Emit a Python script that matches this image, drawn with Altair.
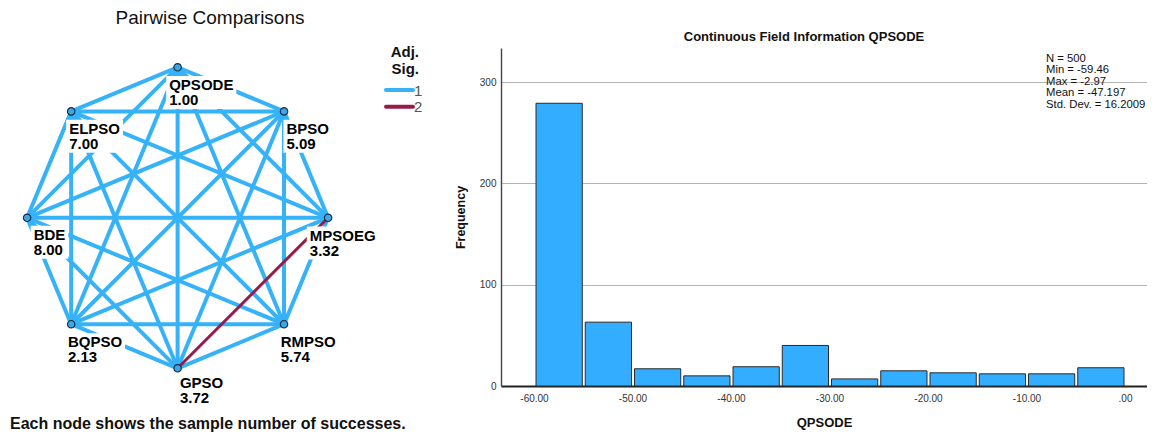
import math
import altair as alt
import pandas as pd

# ---------------- data ----------------
algorithms = ["QPSODE", "BPSO", "MPSOEG", "RMPSO", "GPSO", "BQPSO", "BDE", "ELPSO"]
successes = [1.00, 5.09, 3.32, 5.74, 3.72, 2.13, 8.00, 7.00]
group2_pairs = [("GPSO", "MPSOEG")]          # Adj. Sig. = 2, all other pairs = 1
sig_levels = ["1", "2"]

bin_starts = [-60, -55, -50, -45, -40, -35, -30, -25, -20, -15, -10, -5]
bin_width = 5
frequencies = [279, 63, 17, 10, 19, 40, 7, 15, 13, 12, 12, 18]
x_tick_values = [-60, -50, -40, -30, -20, -10, 0]
y_tick_values = [0, 100, 200, 300]
stats_lines = ["N = 500", "Min = -59.46", "Max = -2.97", "Mean = -47.197", "Std. Dev. = 16.2009"]

left_title = "Pairwise Comparisons"
right_title = "Continuous Field Information QPSODE"
footer_text = "Each node shows the sample number of successes."

# ---------------- style / layout ----------------
FONT = "Liberation Sans"
BLUE = "#36b2f8"
RED = "#981b4e"
BAR = "#33adff"
NODE_FILL = "#3aa8e4"
NODE_STROKE = "#1b2c45"

IMG_LEFT = 8
LEFT_W = 440
VIEW_TOP, VIEW_BOT = 47, 385
VIEW_H = VIEW_BOT - VIEW_TOP
CX, CY, R = 177.6, 216.8, 150.5
RIGHT_X0, RIGHT_X1 = 501, 1147
RIGHT_W = RIGHT_X1 - RIGHT_X0
SPACING = RIGHT_X0 - (IMG_LEFT + LEFT_W)

# label placement (pixel offsets of label start / first baseline from node centre)
label_dx = [-8.4, 2.4, -18.3, -3.3, 2.3, -3.3, 6.6, -2.0]
label_dy = [22.6, 22.3, 22.7, 23.0, 19.3, 23.0, 22.0, 22.3]
LABEL_FS = 15
LINE_GAP = 15

# Arial-bold advance widths (per 1000 em) for label box sizing
CW = {"Q": 778, "P": 667, "S": 667, "O": 778, "D": 722, "E": 667, "B": 722,
      "M": 833, "G": 778, "R": 722, "L": 611, ".": 278}


def text_w(s, fs=LABEL_FS):
    return sum(CW.get(c, 556) for c in s) * fs / 1000.0


def ux(img_x):
    return (img_x - CX) / R


def uy(img_y):
    return (CY - img_y) / R


x_dom = [ux(IMG_LEFT), ux(IMG_LEFT + LEFT_W)]
y_dom = [uy(VIEW_BOT), uy(VIEW_TOP)]
xs = alt.Scale(domain=x_dom, nice=False, zero=False)
ys = alt.Scale(domain=y_dom, nice=False, zero=False)


def X(f):
    return alt.X(f, type="quantitative", scale=xs, axis=None)


def Y(f):
    return alt.Y(f, type="quantitative", scale=ys, axis=None)


# ---------------- network tables ----------------
node_rows, label_rows = [], []
pos = {}
for i, (name, val) in enumerate(zip(algorithms, successes)):
    a = math.radians(90 - 45 * i)
    px, py = CX + R * math.cos(a), CY - R * math.sin(a)
    pos[name] = (ux(px), uy(py))
    node_rows.append({"name": name, "x": ux(px), "y": uy(py)})
    lx = px + label_dx[i]
    b1 = py + label_dy[i]
    b2 = b1 + LINE_GAP
    vstr = f"{val:.2f}"
    w = max(text_w(name), text_w(vstr))
    label_rows.append({
        "name": name, "value": vstr,
        "lx": ux(lx), "ly1": uy(b1), "ly2": uy(b2),
        "bx": ux(lx - 3), "bx2": ux(lx + w + 3),
        "by": uy(b1 - 14), "by2": uy(b2 + 4),
    })
nodes_df = pd.DataFrame(node_rows)
labels_df = pd.DataFrame(label_rows)

edge_rows = []
for i in range(len(algorithms)):
    for j in range(i + 1, len(algorithms)):
        a, b = algorithms[i], algorithms[j]
        sig = "2" if (a, b) in group2_pairs or (b, a) in group2_pairs else "1"
        edge_rows.append({"x": pos[a][0], "y": pos[a][1], "x2": pos[b][0], "y2": pos[b][1], "sig": sig})
edges_df = pd.DataFrame(edge_rows).sort_values("sig", kind="stable")

color_scale = alt.Scale(domain=sig_levels, range=[BLUE, RED])

edges = alt.Chart(edges_df).mark_rule(strokeCap="butt").encode(
    x=X("x"), y=Y("y"), x2="x2:Q", y2="y2:Q",
    color=alt.Color("sig:N", scale=color_scale, legend=None),
    strokeWidth=alt.StrokeWidth("sig:N", scale=alt.Scale(domain=sig_levels, range=[4, 3]), legend=None),
)

boxes = alt.Chart(labels_df).mark_rect(fill="white", stroke=None).encode(
    x=X("bx"), x2="bx2:Q", y=Y("by"), y2="by2:Q"
)

txt_kw = dict(align="left", baseline="alphabetic", font=FONT, fontSize=LABEL_FS,
              fontWeight="bold", color="#000000")
names = alt.Chart(labels_df).mark_text(**txt_kw).encode(x=X("lx"), y=Y("ly1"), text="name:N")
vals = alt.Chart(labels_df).mark_text(**txt_kw).encode(x=X("lx"), y=Y("ly2"), text="value:N")

nodes = alt.Chart(nodes_df).mark_circle(
    size=55, color=NODE_FILL, opacity=1, stroke=NODE_STROKE, strokeWidth=1.2
).encode(x=X("x"), y=Y("y"))

# legend (drawn as marks)
leg_title_df = pd.DataFrame({"t": ["Adj.", "Sig."], "x": [ux(419)] * 2, "y": [uy(56), uy(72.5)]})
leg_title = alt.Chart(leg_title_df).mark_text(
    align="right", baseline="alphabetic", font=FONT, fontSize=15, fontWeight="bold", color="#111111"
).encode(x=X("x"), y=Y("y"), text="t:N")

leg_df = pd.DataFrame({
    "sig": sig_levels,
    "x": [ux(386)] * 2, "x2": [ux(413)] * 2,
    "y": [uy(89 + 16.7 * k) for k in range(2)],
    "lx": [ux(414)] * 2,
    "ly": [uy(94.5 + 16.7 * k) for k in range(2)],
})
leg_lines = alt.Chart(leg_df).mark_rule(strokeWidth=4, strokeCap="round").encode(
    x=X("x"), x2="x2:Q", y=Y("y"),
    color=alt.Color("sig:N", scale=color_scale, legend=None),
)
leg_labels = alt.Chart(leg_df).mark_text(
    align="left", baseline="alphabetic", font=FONT, fontSize=15, color="#555555"
).encode(x=X("lx"), y=Y("ly"), text="sig:N")

footer_df = pd.DataFrame({"t": [footer_text], "x": [ux(10)], "y": [uy(427.5)]})
footer = alt.Chart(footer_df).mark_text(
    align="left", baseline="alphabetic", font=FONT, fontSize=16, fontWeight="bold", color="#111111"
).encode(x=X("x"), y=Y("y"), text="t:N")

ltitle = alt.Chart(pd.DataFrame({"t": [left_title]})).mark_text(
    align="center", baseline="alphabetic", font=FONT, fontSize=19, color="#111111"
).encode(x=alt.value(210 - IMG_LEFT), y=alt.value(22.7 - VIEW_TOP), text="t:N")

left = alt.layer(edges, boxes, names, vals, nodes, leg_title, leg_lines, leg_labels, footer, ltitle).properties(
    width=LEFT_W, height=VIEW_H,
    view=alt.ViewBackground(fill="white", stroke=None),
)

# ---------------- histogram ----------------
hist_df = pd.DataFrame({
    "start": bin_starts,
    "end": [s + bin_width for s in bin_starts],
    "freq": frequencies,
})
PX_PER_UNIT = (1125 - 534) / 60.0
XMIN = -60 - (534 - RIGHT_X0) / PX_PER_UNIT
XMAX = 0 + (RIGHT_X1 - 1125) / PX_PER_UNIT
YMAX = (VIEW_BOT - VIEW_TOP) / ((VIEW_BOT - 81) / 300.0)

bars = alt.Chart(hist_df).mark_bar(color=BAR, stroke="#2a2a2a", strokeWidth=1, binSpacing=3, opacity=1).encode(
    x=alt.X("start:Q", bin="binned",
            scale=alt.Scale(domain=[XMIN, XMAX], nice=False, zero=False),
            axis=alt.Axis(values=x_tick_values,
                          labelExpr="(datum.value < 0 ? '-' : '') + (datum.value == 0 ? '.00' : format(abs(datum.value), '.2f'))",
                          ticks=False, grid=False, domainColor="#222222", domainWidth=1.8,
                          labelFont=FONT, labelFontSize=10, labelColor="#333333", labelPadding=7,
                          labelFlush=False, labelOverlap=False,
                          title="QPSODE", titleFont=FONT, titleFontSize=13, titleFontWeight="bold",
                          titleColor="#111111", titlePadding=13)),
    x2="end:Q",
    y=alt.Y("freq:Q", scale=alt.Scale(domain=[0, YMAX], nice=False),
            axis=alt.Axis(values=y_tick_values, format="d", ticks=False, grid=True,
                          gridColor="#b4b4b4", gridWidth=1, domainColor="#444444", domainWidth=1.4,
                          labelFont=FONT, labelFontSize=10, labelColor="#333333", labelPadding=5,
                          title="Frequency", titleFont=FONT, titleFontSize=12.5,
                          titleFontWeight="bold", titleColor="#111111", titlePadding=12)),
)

stats_df = pd.DataFrame({"t": ["\n".join(stats_lines)]})
stats = alt.Chart(stats_df).mark_text(
    align="left", baseline="top", lineBreak="\n", lineHeight=11.6, font=FONT, fontSize=11.3,
    color="#111111"
).encode(x=alt.value(1046 - RIGHT_X0), y=alt.value(51.5 - VIEW_TOP), text="t:N")

rtitle = alt.Chart(pd.DataFrame({"t": [right_title]})).mark_text(
    align="center", baseline="alphabetic", font=FONT, fontSize=13, fontWeight="bold", color="#111111"
).encode(x=alt.value(804 - RIGHT_X0), y=alt.value(39.7 - VIEW_TOP), text="t:N")

right = alt.layer(bars, stats, rtitle).properties(
    width=RIGHT_W, height=VIEW_H,
    view=alt.ViewBackground(stroke=None),
)

chart = alt.hconcat(left, right, spacing=SPACING, bounds="flush").properties(
    padding=0
).configure(font=FONT).configure_view(stroke=None)

chart.save("out.html", embed_options={"renderer": "svg", "actions": False})
